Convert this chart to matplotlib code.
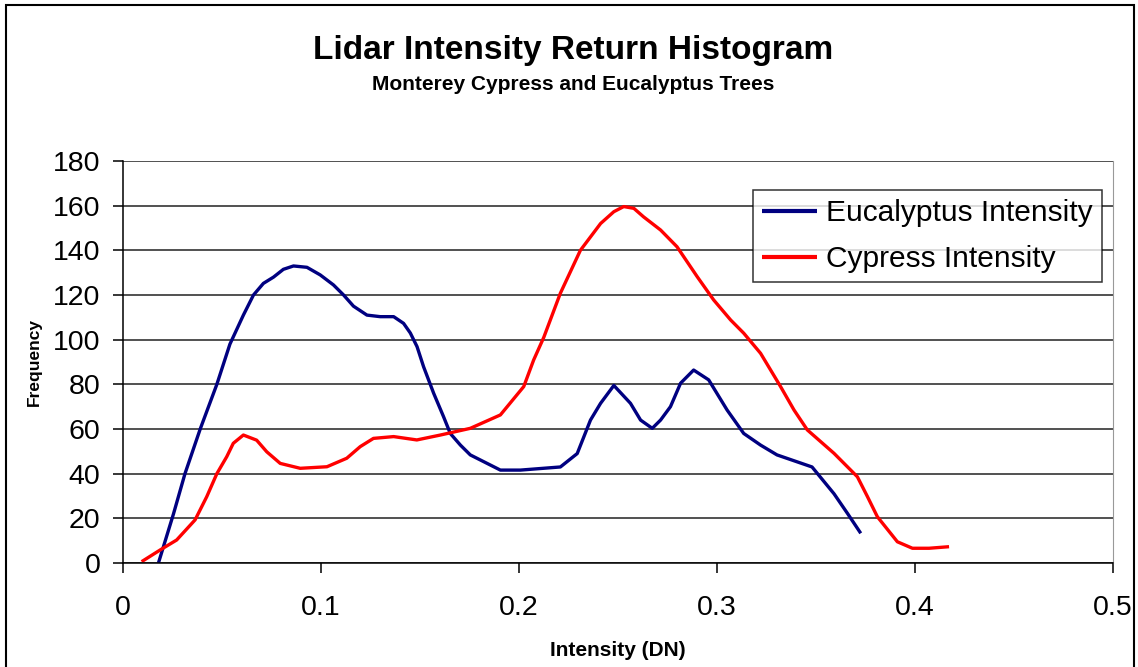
import numpy as np
import matplotlib.pyplot as plt
from matplotlib.patches import Rectangle

# values
euc_x = [0.0179, 0.0255, 0.0313, 0.039, 0.0474, 0.054, 0.0608, 0.0659, 0.0709, 0.076,
         0.081, 0.0861, 0.0929, 0.0996, 0.1063, 0.1114, 0.1164, 0.1232, 0.1299, 0.1367,
         0.1417, 0.1451, 0.1485, 0.1518, 0.1569, 0.1619, 0.1653, 0.1704, 0.1754, 0.1906,
         0.2007, 0.2209, 0.2294, 0.2361, 0.2412, 0.2479, 0.2563, 0.2614, 0.2673, 0.2715,
         0.2765, 0.2816, 0.2882, 0.2958, 0.3051, 0.3135, 0.322, 0.3303, 0.348, 0.3591,
         0.3659, 0.3726]
euc_y = [0, 22, 40, 60, 80, 98, 111, 120, 125.2, 128,
         131.5, 133, 132.4, 129, 124.5, 120, 115, 111, 110.3, 110.3,
         107.3, 103, 96.9, 87.9, 76, 65.5, 58, 52.8, 48.4, 41.6,
         41.6, 43, 49, 64, 71.5, 79.5, 71.5, 64, 60.3, 64,
         70, 80.5, 86.4, 82, 68.5, 58, 52.8, 48.4, 43, 31,
         22.2, 13.3]

cyp_x = [0.0094, 0.0187, 0.0271, 0.0364, 0.0423, 0.0474, 0.0524, 0.0557, 0.0608, 0.0675,
         0.0726, 0.0794, 0.0895, 0.103, 0.113, 0.1198, 0.1265, 0.1367, 0.1484, 0.1603,
         0.1754, 0.1906, 0.2024, 0.2074, 0.2125, 0.2209, 0.231, 0.2412, 0.2479, 0.2529,
         0.258, 0.2629, 0.2715, 0.2798, 0.29, 0.2983, 0.3069, 0.3135, 0.322, 0.3321,
         0.3389, 0.3456, 0.3591, 0.3709, 0.376, 0.381, 0.3911, 0.3987, 0.4071, 0.4172]
cyp_y = [0.6, 5.8, 10.3, 19.3, 29.7, 40, 47.6, 53.6, 57.3, 55,
         49.8, 44.6, 42.4, 43.1, 46.9, 52.1, 55.8, 56.6, 55.1, 57.3,
         60.3, 66.3, 79, 90.9, 101, 120.8, 140, 152, 157.3, 159.6,
         158.8, 155, 149.1, 141.6, 128.2, 117.8, 108.8, 102.9, 93.9, 79,
         68.5, 59.6, 49.1, 38.6, 29.7, 20.7, 9.5, 6.6, 6.6, 7.3]

x_ticks = [0, 0.1, 0.2, 0.3, 0.4, 0.5]
x_tick_labels = ['0', '0.1', '0.2', '0.3', '0.4', '0.5']
y_ticks = list(range(0, 181, 20))

plt.rcParams['font.family'] = ['Liberation Sans', 'DejaVu Sans']

fig = plt.figure(figsize=(11.38, 6.67), dpi=100)
fig.patches.append(Rectangle((6 / 1138, -0.01), 1128 / 1138, 1 - 5 / 667 + 0.01,
                             transform=fig.transFigure, fill=False,
                             edgecolor='black', linewidth=1.5))

ax = fig.add_axes([123 / 1138, 1 - 563 / 667, 990 / 1138, 402 / 667])

ax.plot(euc_x, euc_y, color='#000080', linewidth=2.4, label='Eucalyptus Intensity',
        solid_joinstyle='round', solid_capstyle='butt')
ax.plot(cyp_x, cyp_y, color='#ff0000', linewidth=2.4, label='Cypress Intensity',
        solid_joinstyle='round', solid_capstyle='butt')

ax.set_xlim(0, 0.5)
ax.set_ylim(0, 180)
ax.set_xticks(x_ticks)
ax.set_xticklabels(x_tick_labels)
ax.set_yticks(y_ticks)

ax.yaxis.grid(True, color='#222222', linewidth=1.1)
ax.set_axisbelow(True)

ax.spines['top'].set_visible(False)
ax.spines['right'].set_color('#999999')
ax.spines['left'].set_linewidth(1.1)
ax.spines['bottom'].set_linewidth(1.1)

ax.tick_params(axis='both', labelsize=20.5, length=7.2, width=1.1, direction='out')
ax.tick_params(axis='x', pad=16)
ax.tick_params(axis='y', pad=9)

ax.set_xlabel('Intensity (DN)', fontsize=15, fontweight='bold', labelpad=14)
ax.set_ylabel('Frequency', fontsize=12.5, fontweight='bold', labelpad=8)

fig.text(573 / 1138, 1 - 50 / 667, 'Lidar Intensity Return Histogram',
         ha='center', va='center', fontsize=24, fontweight='bold')
fig.text(573 / 1138, 1 - 84 / 667, 'Monterey Cypress and Eucalyptus Trees',
         ha='center', va='center', fontsize=15, fontweight='bold')

leg = ax.legend(loc='upper right', bbox_to_anchor=(979 / 990, 373 / 402),
                fontsize=21.5, frameon=True, fancybox=False, borderpad=0.3,
                handlelength=1.85, handletextpad=0.3, labelspacing=0.62,
                borderaxespad=0)
leg.get_frame().set_edgecolor('black')
leg.get_frame().set_linewidth(1.1)
for line in leg.get_lines():
    line.set_linewidth(3)

fig.savefig('out.png', dpi=100)
